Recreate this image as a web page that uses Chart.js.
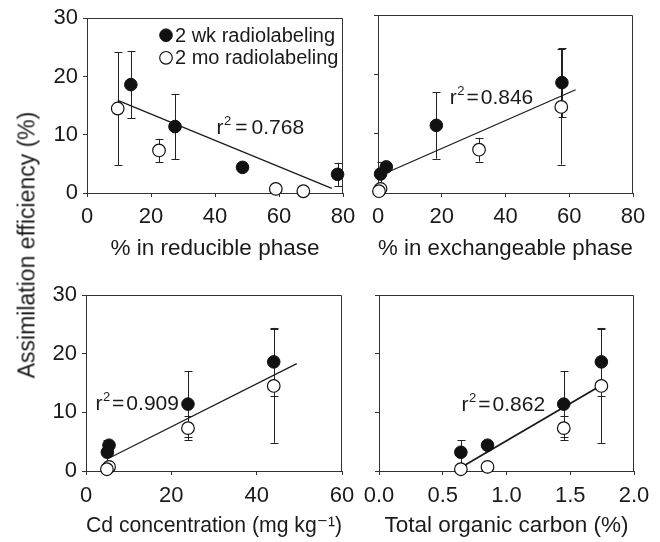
<!DOCTYPE html>
<html><head><meta charset="utf-8">
<script src="https://cdn.jsdelivr.net/npm/chart.js@4/dist/chart.umd.min.js"></script>
<style>
html,body{margin:0;padding:0;background:#fff;}
#wrap{position:relative;width:660px;height:542px;overflow:hidden;background:#fff;}
#wrap canvas{position:absolute;}
#ytitle{position:absolute;left:27px;top:245px;transform:translate(-50%,-50%) rotate(-90deg);white-space:nowrap;font:23px "Liberation Sans",Arial,sans-serif;color:#1a1a1a;line-height:1;}
</style></head><body>
<div id="wrap">
<canvas id="c1"></canvas>
<canvas id="c2"></canvas>
<canvas id="c3"></canvas>
<canvas id="c4"></canvas>
<div id="ytitle">Assimilation efficiency (%)</div>
</div>
<script>
// ---- data ----
const seriesNames = ['2 wk radiolabeling', '2 mo radiolabeling'];
const wkAE  = [18.6, 11.4, 4.4, 3.2];
const wkErr = [5.8, 5.6, 0, 2.0];
const moAE  = [14.5, 7.3, 0.7, 0.3];
const moErr = [9.7, 2.0, 0, 0];

const reducibleWk = [13.7, 27.5, 48.6, 78.3];
const reducibleMo = [9.6, 22.5, 59.0, 67.6];
const exchangeableWk = [57.7, 18.3, 2.6, 0.8];
const exchangeableMo = [57.5, 31.7, 0.8, 0.3];
const cdWk = [44.0, 23.9, 5.4, 5.0];
const cdMo = [44.0, 23.9, 5.4, 4.9];
const tocWk = [1.744, 1.449, 0.851, 0.642];
const tocMo = [1.744, 1.449, 0.851, 0.642];

const fitReducibleX = [9.6, 76.5],  fitReducibleY = [15.9, 0.8];
const fitExchangeX = [0.5, 62.0],   fitExchangeY = [2.9, 17.4];
const fitCdX = [5.7, 49.4],         fitCdY = [2.3, 18.3];
const fitTocX = [0.642, 1.744],     fitTocY = [0.6, 14.6];

const r2Values = ['0.768', '0.846', '0.909', '0.862'];
const yTicks = [0, 10, 20, 30];
const xTicksPct = [0, 20, 40, 60, 80];
const xTicksCd = [0, 20, 40, 60];
const xTicksToc = [0, 0.5, 1.0, 1.5, 2.0];
const xTitles = ['% in reducible phase', '% in exchangeable phase', 'Cd concentration (mg kg\u207B\u00B9)', 'Total organic carbon (%)'];

// ---- rendering ----
const FONT = '"Liberation Sans", Arial, Helvetica, "DejaVu Sans", sans-serif';
Chart.defaults.font.family = FONT;
Chart.defaults.color = '#1a1a1a';
const INK = '#1a1a1a';
const AXIS = '#333333';
const zip = (xs, ys) => xs.map((x, i) => ({x: x, y: ys[i]}));

function drawR2(ctx, x, y, value, gap) {
  ctx.textBaseline = 'middle';
  ctx.textAlign = 'left';
  ctx.font = '21px ' + FONT;
  ctx.fillText('r', x, y);
  let cx = x + ctx.measureText('r').width + 0.5;
  ctx.font = '13px ' + FONT;
  ctx.fillText('2', cx, y - 7);
  cx += ctx.measureText('2').width + gap;
  ctx.font = '21px ' + FONT;
  ctx.fillText('=', cx, y);
  cx += ctx.measureText('=').width + gap;
  ctx.fillText(value, cx, y);
}

const framePlugin = {
  id: 'frameAndErrors',
  beforeDatasetsDraw(chart) {
    const {ctx, chartArea} = chart;
    const ys = chart.scales.y;
    ctx.save();
    ctx.strokeStyle = AXIS;
    ctx.lineWidth = 1;
    const t = Math.round(chartArea.top) + 0.5, r = Math.round(chartArea.right) - 0.5;
    ctx.beginPath();
    ctx.moveTo(chartArea.left, t); ctx.lineTo(r, t); ctx.lineTo(r, chartArea.bottom);
    ctx.stroke();
    ctx.strokeStyle = '#222';
    chart.data.datasets.forEach((ds, i) => {
      if (!ds.errors) return;
      const meta = chart.getDatasetMeta(i);
      meta.data.forEach((pt, j) => {
        const e = ds.errors[j];
        if (!e) return;
        const v = ds.data[j].y;
        const x = Math.round(pt.x) + 0.5;
        const y1 = ys.getPixelForValue(v + e), y2 = ys.getPixelForValue(v - e);
        ctx.beginPath();
        ctx.moveTo(x, y1); ctx.lineTo(x, y2);
        ctx.moveTo(x - 4, Math.round(y1) + 0.5); ctx.lineTo(x + 4, Math.round(y1) + 0.5);
        ctx.moveTo(x - 4, Math.round(y2) + 0.5); ctx.lineTo(x + 4, Math.round(y2) + 0.5);
        ctx.stroke();
      });
    });
    ctx.restore();
  },
  afterDatasetsDraw(chart, args, opts) {
    const {ctx, chartArea} = chart;
    ctx.save();
    ctx.fillStyle = INK;
    if (opts.r2) {
      const xs = chart.scales.x, ys = chart.scales.y;
      drawR2(ctx, xs.getPixelForValue(opts.r2x), ys.getPixelForValue(opts.r2y), opts.r2, opts.r2gap);
    }
    if (opts.legend) {
      const lx = chartArea.left + 79, ly = chartArea.top + 17, gap = 22.6;
      chart.data.datasets.slice(0, 2).forEach((ds, i) => {
        const cy = ly + i * gap;
        ctx.beginPath();
        ctx.arc(lx, cy, 6.3, 0, Math.PI * 2);
        ctx.fillStyle = ds.backgroundColor; ctx.fill();
        ctx.lineWidth = ds.borderWidth; ctx.strokeStyle = ds.borderColor; ctx.stroke();
        ctx.font = '20px ' + FONT;
        ctx.fillStyle = INK; ctx.textBaseline = 'middle'; ctx.textAlign = 'left';
        ctx.fillText(ds.label, lx + 9, cy + 1);
      });
    }
    ctx.restore();
  }
};

function makePanel(id, c) {
  const cv = document.getElementById(id);
  cv.width = c.w; cv.height = c.h;
  cv.style.left = c.left + 'px'; cv.style.top = c.top + 'px';
  cv.style.width = c.w + 'px'; cv.style.height = c.h + 'px';
  return new Chart(cv, {
    type: 'scatter',
    data: {datasets: [
      {label: seriesNames[0], data: zip(c.xWk, wkAE), errors: wkErr, pointRadius: 6.3, backgroundColor: '#111111', borderColor: '#111111', borderWidth: 1, clip: false},
      {label: seriesNames[1], data: zip(c.xMo, moAE), errors: moErr, pointRadius: 6.3, backgroundColor: '#ffffff', borderColor: '#111111', borderWidth: 1.2, clip: false},
      {label: 'fit', data: zip(c.fitX, c.fitY), showLine: true, pointRadius: 0, borderColor: '#1a1a1a', borderWidth: c.fitW, fill: false, clip: false}
    ]},
    options: {
      responsive: false, animation: false, events: [],
      layout: {padding: c.pad},
      plugins: {
        legend: {display: false}, tooltip: {enabled: false},
        frameAndErrors: {r2: c.r2, r2x: c.r2x, r2y: c.r2y, r2gap: c.r2gap, legend: !!c.legend}
      },
      scales: {
        x: {
          type: 'linear', min: c.xMin, max: c.xMax,
          afterBuildTicks: s => { s.ticks = c.xTicks.map(v => ({value: v})); },
          afterFit: s => { s.height = c.xAxisH; },
          grid: {drawOnChartArea: false, drawTicks: true, tickLength: 4, color: AXIS},
          border: {color: AXIS, width: 1},
          ticks: {font: {size: 22}, padding: c.tickPad, color: INK, maxRotation: 0, autoSkip: false, callback: c.xFmt},
          title: {display: true, text: c.xTitle, color: INK, font: {size: 22.5}, padding: {top: 0, bottom: c.titlePad}}
        },
        y: {
          type: 'linear', min: 0, max: 30,
          afterBuildTicks: s => { s.ticks = yTicks.map(v => ({value: v})); },
          afterFit: s => { s.width = c.yAxisW; },
          grid: {drawOnChartArea: false, drawTicks: true, tickLength: 4, color: AXIS},
          border: {color: AXIS, width: 1},
          ticks: {display: c.yLabels, font: {size: 22}, padding: 5, color: INK}
        }
      }
    },
    plugins: [framePlugin]
  });
}

const intFmt = v => String(v);
const decFmt = v => Number(v).toFixed(1);

makePanel('c1', {left: 0, top: 0, w: 365, h: 272, pad: {left: 0, top: 15, right: 22, bottom: 0},
  yAxisW: 87, xAxisH: 79, tickPad: 7, titlePad: 10, yLabels: true,
  xWk: reducibleWk, xMo: reducibleMo, fitX: fitReducibleX, fitY: fitReducibleY, fitW: 1.2,
  xMin: 0, xMax: 80, xTicks: xTicksPct, xFmt: intFmt, xTitle: xTitles[0],
  r2: r2Values[0], r2x: 40.5, r2y: 11.1, r2gap: 4, legend: true});

makePanel('c2', {left: 355, top: 0, w: 305, h: 272, pad: {left: 0, top: 15, right: 27, bottom: 0},
  yAxisW: 23, xAxisH: 79, tickPad: 7, titlePad: 10, yLabels: false,
  xWk: exchangeableWk, xMo: exchangeableMo, fitX: fitExchangeX, fitY: fitExchangeY, fitW: 1.2,
  xMin: 0, xMax: 80, xTicks: xTicksPct, xFmt: intFmt, xTitle: xTitles[1],
  r2: r2Values[1], r2x: 22.5, r2y: 16.0, r2gap: 2});

makePanel('c3', {left: 0, top: 272, w: 365, h: 270, pad: {left: 0, top: 23, right: 23, bottom: 0},
  yAxisW: 86, xAxisH: 71, tickPad: 8, titlePad: 3, yLabels: true,
  xWk: cdWk, xMo: cdMo, fitX: fitCdX, fitY: fitCdY, fitW: 1.2,
  xMin: 0, xMax: 60, xTicks: xTicksCd, xFmt: intFmt, xTitle: xTitles[2],
  r2: r2Values[2], r2x: 2.2, r2y: 11.4, r2gap: 2});

makePanel('c4', {left: 355, top: 272, w: 305, h: 270, pad: {left: 0, top: 23, right: 26, bottom: 0},
  yAxisW: 24, xAxisH: 71, tickPad: 8, titlePad: 3, yLabels: false,
  xWk: tocWk, xMo: tocMo, fitX: fitTocX, fitY: fitTocY, fitW: 1.8,
  xMin: 0, xMax: 2, xTicks: xTicksToc, xFmt: decFmt, xTitle: xTitles[3],
  r2: r2Values[3], r2x: 0.648, r2y: 11.2, r2gap: 2});
</script>
</body></html>
